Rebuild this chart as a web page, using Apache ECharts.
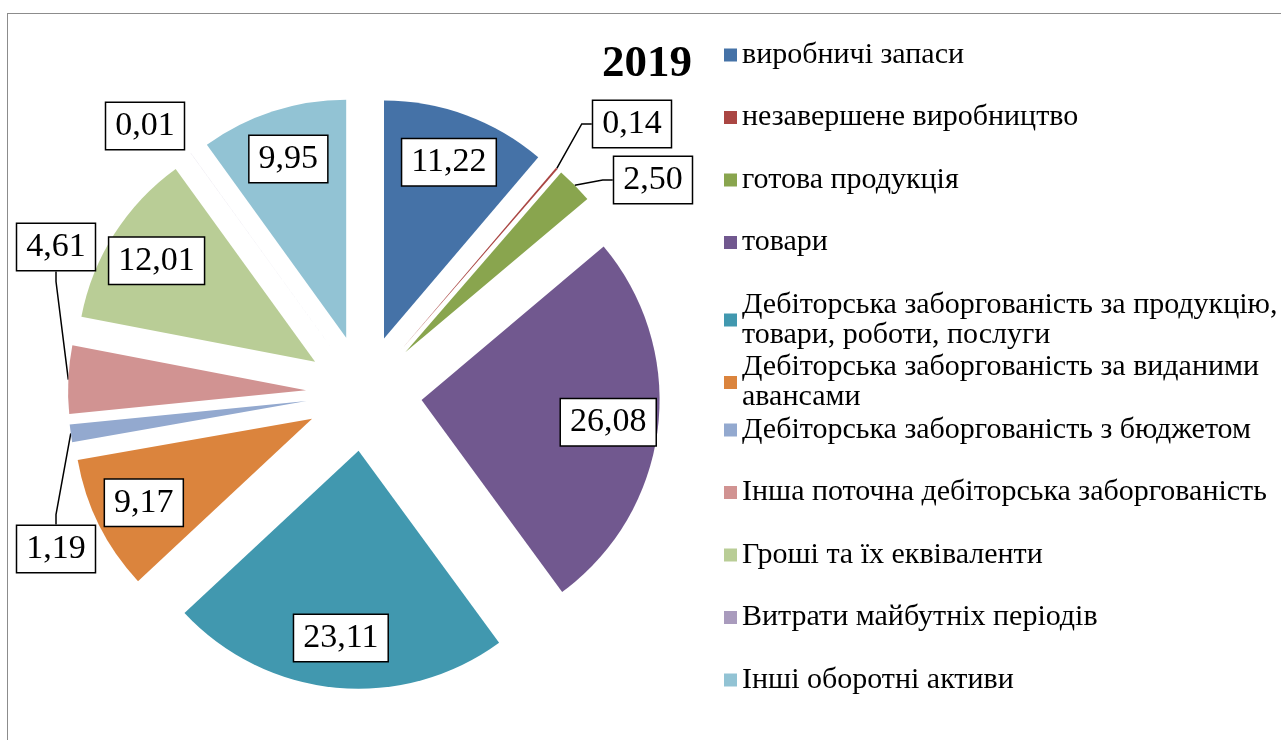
<!DOCTYPE html>
<html>
<head>
<meta charset="utf-8">
<script src="https://cdn.jsdelivr.net/npm/echarts@6/dist/echarts.min.js"></script>
<style>
  html, body { margin: 0; padding: 0; background: #fff; }
  #frame { position: absolute; left: 7px; top: 13px; width: 1400px; height: 800px;
           border-top: 1.5px solid #8c8c8c; border-left: 1.5px solid #8c8c8c; }
  #main { position: absolute; left: 0; top: 0; width: 1281px; height: 740px; }
</style>
</head>
<body>
<div id="frame"></div>
<div id="main"></div>
<script>
var categories = [
    'виробничі запаси',
    'незавершене виробництво',
    'готова продукція',
    'товари',
    'Дебіторська заборгованість за продукцію,\nтовари, роботи, послуги',
    'Дебіторська заборгованість за виданими\nавансами',
    'Дебіторська заборгованість з бюджетом',
    'Інша поточна дебіторська заборгованість',
    'Гроші та їх еквіваленти',
    'Витрати майбутніх періодів',
    'Інші оборотні активи'
];
var values = [11.22, 0.14, 2.50, 26.08, 23.11, 9.17, 1.19, 4.61, 12.01, 0.01, 9.95];
var colors = ['#4572a7', '#aa4643', '#89a54e', '#71588f', '#4198af', '#db843d',
              '#93a9cf', '#d19392', '#b9cd96', '#a99bbd', '#92c3d4'];

// small slices get their label outside, next to the pie (label centre)
var outsideLabels = { 1: [632, 124], 2: [653, 180], 6: [56, 549], 7: [56, 247], 9: [145, 126] };

var labelBox = {
    fontFamily: 'Liberation Serif',
    fontSize: 34,
    lineHeight: 37,
    color: '#000',
    backgroundColor: '#fff',
    borderColor: '#000',
    borderWidth: 1.5,
    padding: [5, 9, 4, 9],
    formatter: function (p) { return p.value.toFixed(2).replace('.', ','); }
};

var CENTER = [364, 393];
var R = 238;
var EXPLODE = 58;

function makeData(kind) {
    return values.map(function (v, i) {
        var isOut = outsideLabels[i] != null;
        var item = { name: categories[i], value: v };
        if (kind === 'pie') {
            item.selected = true;
            item.itemStyle = { color: colors[i] };
        } else {
            item.itemStyle = { color: 'rgba(0,0,0,0)' };
            if (kind === 'inner') item.selected = true;
            item.label = { show: kind === 'inner' ? !isOut : isOut };
            item.labelLine = { show: kind === 'outer' && isOut && i !== 9 };
        }
        return item;
    });
}

// one legend per entry so two-line names keep the even spacing
var legends = categories.map(function (c, i) {
    return {
        orient: 'vertical',
        left: 724,
        top: 40 + i * 62.5,
        padding: 0,
        icon: 'rect',
        itemWidth: 13,
        itemHeight: 13,
        selectedMode: false,
        data: [c],
        textStyle: {
            fontFamily: 'Liberation Serif',
            fontSize: 30,
            color: '#000',
            lineHeight: 30,
            height: 30
        }
    };
});

var myChart = echarts.init(document.getElementById('main'));
myChart.setOption({
    animation: false,
    title: {
        text: '2019',
        left: 597,
        top: 37,
        textStyle: { fontFamily: 'Liberation Serif', fontSize: 45, fontWeight: 'bold', color: '#000' }
    },
    legend: legends,
    series: [{
        // the exploded pie itself
        type: 'pie',
        center: CENTER,
        radius: R,
        startAngle: 90,
        selectedMode: 'multiple',
        selectedOffset: EXPLODE,
        label: { show: false },
        labelLine: { show: false },
        emphasis: { disabled: true },
        data: makeData('pie')
    }, {
        // transparent ring that carries the labels sitting on the slices
        type: 'pie',
        center: CENTER,
        radius: [132, R],
        startAngle: 90,
        selectedMode: 'multiple',
        selectedOffset: EXPLODE,
        silent: true,
        label: Object.assign({ position: 'inside' }, labelBox),
        labelLine: { show: false },
        emphasis: { disabled: true },
        data: makeData('inner')
    }, {
        // transparent pie the size of the exploded outline, for outside labels
        type: 'pie',
        center: CENTER,
        radius: R + EXPLODE,
        startAngle: 90,
        silent: true,
        avoidLabelOverlap: false,
        label: Object.assign({ position: 'outside' }, labelBox),
        labelLine: { length: 10, length2: 10, lineStyle: { color: '#000', width: 1.5 } },
        labelLayout: function (p) {
            var pos = outsideLabels[p.dataIndex];
            if (!pos) return {};
            return { x: pos[0], y: pos[1], align: 'center', verticalAlign: 'middle' };
        },
        emphasis: { disabled: true },
        data: makeData('outer')
    }]
});
</script>
</body>
</html>
